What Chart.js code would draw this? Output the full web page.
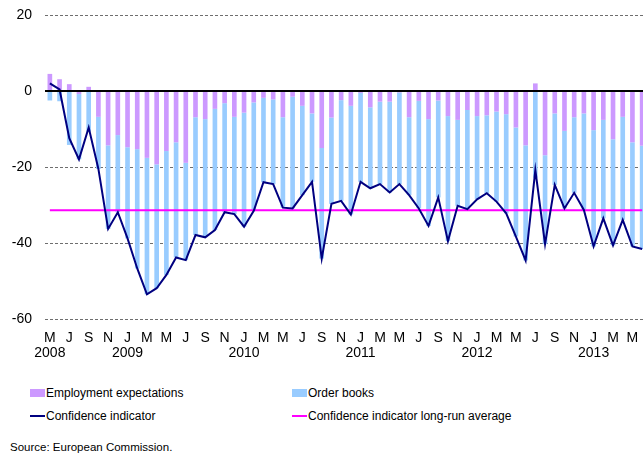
<!DOCTYPE html>
<html>
<head>
<meta charset="utf-8">
<script src="https://cdn.jsdelivr.net/npm/chart.js@4.4.1/dist/chart.umd.min.js"></script>
<style>
  html, body { margin: 0; padding: 0; overflow: hidden; background: #fff; }
  body { width: 643px; height: 456px; position: relative; font-family: "Liberation Sans", Arial, sans-serif; color: #000; }
  #chart { position: absolute; left: 0; top: 0; }
  .lg { position: absolute; font-size: 12px; line-height: 14px; white-space: nowrap; }
  .sw { position: absolute; left: -16px; width: 15px; }
  .box { top: 3px; height: 8px; }
  .ln { top: 6px; height: 2px; }
  #source { position: absolute; left: 10px; top: 441px; font-size: 11.5px; }
</style>
</head>
<body>
<canvas id="chart" width="647" height="380"></canvas>
<div class="lg" style="left:46px;top:386px;"><span class="sw box" style="background:#cc99ff"></span>Employment expectations</div>
<div class="lg" style="left:308px;top:386px;"><span class="sw box" style="background:#99ccff"></span>Order books</div>
<div class="lg" style="left:46px;top:409px;"><span class="sw ln" style="background:#000080"></span>Confidence indicator</div>
<div class="lg" style="left:308px;top:409px;"><span class="sw ln" style="background:#ff00ff"></span>Confidence indicator long-run average</div>
<div id="source">Source: European Commission.</div>
<script>
(function () {
    "use strict";

    const months = [
        "2008-05", "2008-06", "2008-07", "2008-08", "2008-09", "2008-10", "2008-11", "2008-12",
        "2009-01", "2009-02", "2009-03", "2009-04", "2009-05", "2009-06", "2009-07", "2009-08", "2009-09", "2009-10", "2009-11", "2009-12",
        "2010-01", "2010-02", "2010-03", "2010-04", "2010-05", "2010-06", "2010-07", "2010-08", "2010-09", "2010-10", "2010-11", "2010-12",
        "2011-01", "2011-02", "2011-03", "2011-04", "2011-05", "2011-06", "2011-07", "2011-08", "2011-09", "2011-10", "2011-11", "2011-12",
        "2012-01", "2012-02", "2012-03", "2012-04", "2012-05", "2012-06", "2012-07", "2012-08", "2012-09", "2012-10", "2012-11", "2012-12",
        "2013-01", "2013-02", "2013-03", "2013-04", "2013-05", "2013-06",
    ];
    const monthLetters = ["J", "F", "M", "A", "M", "J", "J", "A", "S", "O", "N", "D"];

    const employment = [
        4.5, 3.1, 1.8, -0.8, 1.1, -6.8, -14.3, -11.6, -14.8, -15.3, -17.6, -19.3, -15.8, -13.5, -18.9, -6.9,
        -7.4, -4.7, -3.2, -6.8, -5.7, -3.0, -1.8, -2.2, -6.9, -1.5, -3.9, -5.9, -15.0, -7.0, -2.4, -3.9,
        -0.5, -4.3, -2.8, -2.8, -0.4, -6.9, -2.6, -7.4, -2.5, -6.6, -7.6, -5.0, -6.6, -6.4, -5.4, -6.1,
        -9.6, -14.3, 2.0, -16.9, -5.9, -10.5, -6.9, -5.9, -10.3, -7.6, -12.7, -6.8, -13.5, -14.4,
    ];
    const orderBooks = [
        -2.5, -2.7, -14.2, -17.2, -10.7, -13.7, -22.0, -20.3, -24.0, -31.4, -35.9, -32.6, -32.6, -30.3, -25.6, -31.0,
        -31.1, -31.9, -28.7, -25.6, -30.0, -28.5, -22.2, -22.3, -23.8, -29.4, -23.5, -18.0, -29.1, -22.7, -26.5, -28.6,
        -23.4, -21.3, -21.7, -23.9, -24.1, -20.5, -28.3, -28.1, -25.5, -32.9, -22.6, -26.1, -21.9, -20.5, -23.7, -26.1,
        -28.7, -30.3, -22.8, -23.4, -18.8, -20.4, -19.9, -25.4, -30.6, -25.9, -27.9, -27.1, -27.4, -27.2,
    ];
    const confidence = [
        2.0, 0.4, -12.4, -18.0, -9.6, -20.5, -36.3, -31.9, -38.8, -46.7, -53.5, -51.9, -48.4, -43.8, -44.5, -37.9,
        -38.5, -36.6, -31.9, -32.4, -35.7, -31.5, -24.0, -24.5, -30.7, -30.9, -27.4, -23.9, -44.1, -29.7, -28.9, -32.5,
        -23.9, -25.6, -24.5, -26.7, -24.5, -27.4, -30.9, -35.5, -28.0, -39.5, -30.2, -31.1, -28.5, -26.9, -29.1, -32.2,
        -38.3, -44.6, -20.8, -40.3, -24.7, -30.9, -26.8, -31.3, -40.9, -33.5, -40.6, -33.9, -40.9, -41.6,
    ];
    const longRunAverage = -31.4;
    const yTicks = [20, 0, -20, -40, -60];

    const font = { family: "'Liberation Sans', Arial, sans-serif", size: 14, lineHeight: "15px" };

    const zeroLine = {
        id: "zeroLine",
        afterDatasetsDraw(chart) {
            const { ctx, chartArea, scales } = chart;
            const y = scales.y.getPixelForValue(0);
            ctx.save();
            ctx.strokeStyle = "#000";
            ctx.lineWidth = 2;
            ctx.beginPath();
            ctx.moveTo(chartArea.left, y);
            ctx.lineTo(chartArea.right, y);
            ctx.stroke();
            ctx.restore();
        },
    };

    new Chart(document.getElementById("chart"), {
        type: "bar",
        data: {
            labels: months,
            datasets: [
                { label: "Employment expectations", data: employment, backgroundColor: "#cc99ff", stack: "bars", order: 2, barPercentage: 0.48, categoryPercentage: 1 },
                { label: "Order books", data: orderBooks, backgroundColor: "#99ccff", stack: "bars", order: 2, barPercentage: 0.48, categoryPercentage: 1 },
                { type: "line", label: "Confidence indicator long-run average", data: months.map(() => longRunAverage), borderColor: "#ff00ff", borderWidth: 2, pointRadius: 0, stack: "avg", order: 1 },
                { type: "line", label: "Confidence indicator", data: confidence, borderColor: "#000080", borderWidth: 2, pointRadius: 0, tension: 0, stack: "ci", order: 0 },
            ],
        },
        options: {
            responsive: false,
            animation: false,
            devicePixelRatio: 1,
            layout: { padding: { top: 15, left: 0, right: 0, bottom: 0 } },
            plugins: { legend: { display: false }, tooltip: { enabled: false } },
            scales: {
                x: {
                    stacked: true,
                    grid: { display: false, drawTicks: false },
                    border: { display: false },
                    ticks: {
                        autoSkip: false, maxRotation: 0, padding: 11.5, color: "#000", font,
                        callback: (v, i) => {
                            if (i % 2) return "";
                            const [yr, mo] = months[i].split("-");
                            const letter = monthLetters[Number(mo) - 1];
                            return (i === 0 || mo === "01") ? [letter, yr] : letter;
                        },
                    },
                    afterFit: (s) => { s.height = 61; s.paddingLeft = 0; s.paddingRight = 0; },
                },
                y: {
                    stacked: true,
                    min: yTicks[yTicks.length - 1], max: yTicks[0],
                    afterBuildTicks: (s) => { s.ticks = yTicks.map((v) => ({ value: v })); },
                    grid: { color: (c) => c.tick && c.tick.value === 0 ? "rgba(0,0,0,0)" : "#6e6e6e", lineWidth: 1, drawTicks: false },
                    border: { display: false, dash: [3, 2] },
                    ticks: { padding: 13, color: "#000", font },
                    afterFit: (s) => { s.width = 45; s.paddingTop = 0; s.paddingBottom = 0; },
                },
            },
        },
        plugins: [zeroLine],
    });
})();
</script>
</body>
</html>
